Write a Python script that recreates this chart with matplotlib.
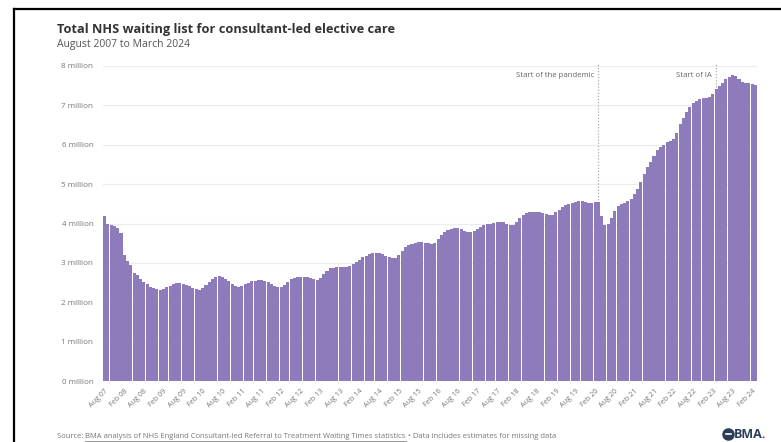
import matplotlib
matplotlib.use("Agg")
import matplotlib.pyplot as plt
from matplotlib.lines import Line2D
import numpy as np

plt.rcParams['font.family'] = ['Open Sans', 'DejaVu Sans']

# Monthly total waiting list (millions), Aug 2007 .. Mar 2024
v2007 = [4.18, 4.00, 3.97, 3.93, 3.88]
v2008 = [3.75, 3.20, 3.05, 2.95, 2.75, 2.68, 2.58, 2.52, 2.46, 2.40, 2.36, 2.33]
v2009 = [2.31, 2.33, 2.38, 2.42, 2.46, 2.49, 2.49, 2.47, 2.45, 2.41, 2.36, 2.33]
v2010 = [2.31, 2.36, 2.44, 2.52, 2.60, 2.65, 2.67, 2.64, 2.60, 2.54, 2.47, 2.41]
v2011 = [2.38, 2.42, 2.46, 2.50, 2.53, 2.55, 2.57, 2.57, 2.55, 2.52, 2.47, 2.42]
v2012 = [2.39, 2.38, 2.44, 2.52, 2.58, 2.62, 2.64, 2.65, 2.64, 2.63, 2.62, 2.60]
v2013 = [2.57, 2.62, 2.72, 2.80, 2.86, 2.88, 2.89, 2.90, 2.90, 2.89, 2.91, 2.96]
v2014 = [3.02, 3.08, 3.14, 3.18, 3.22, 3.25, 3.25, 3.24, 3.22, 3.18, 3.14, 3.12]
v2015 = [3.12, 3.20, 3.30, 3.40, 3.45, 3.48, 3.50, 3.52, 3.52, 3.51, 3.50, 3.48]
v2016 = [3.50, 3.60, 3.70, 3.78, 3.83, 3.86, 3.88, 3.89, 3.86, 3.82, 3.79, 3.78]
v2017 = [3.80, 3.86, 3.92, 3.96, 3.98, 4.00, 4.02, 4.04, 4.05, 4.03, 4.00, 3.97]
v2018 = [3.96, 4.05, 4.15, 4.22, 4.27, 4.29, 4.30, 4.30, 4.29, 4.27, 4.24, 4.22]
v2019 = [4.22, 4.28, 4.35, 4.42, 4.46, 4.49, 4.52, 4.55, 4.56, 4.56, 4.55, 4.53]
v2020 = [4.53, 4.55, 4.54, 4.20, 3.96, 4.00, 4.15, 4.32, 4.45, 4.50, 4.52, 4.56]
v2021 = [4.62, 4.75, 4.88, 5.05, 5.25, 5.43, 5.56, 5.72, 5.86, 5.94, 6.00, 6.06]
v2022 = [6.10, 6.14, 6.30, 6.52, 6.68, 6.82, 6.95, 7.06, 7.12, 7.15, 7.18, 7.20]
v2023 = [7.22, 7.30, 7.42, 7.50, 7.58, 7.66, 7.72, 7.76, 7.74, 7.66, 7.60, 7.58]
v2024 = [7.58, 7.55, 7.53]

values = (v2007 + v2008 + v2009 + v2010 + v2011 + v2012 + v2013 + v2014 + v2015
          + v2016 + v2017 + v2018 + v2019 + v2020 + v2021 + v2022 + v2023 + v2024)

month_names = ['Jan', 'Feb', 'Mar', 'Apr', 'May', 'Jun', 'Jul', 'Aug', 'Sep', 'Oct', 'Nov', 'Dec']
months = []
y, m = 2007, 8
for _ in range(len(values)):
    months.append(f"{month_names[m-1]} {y % 100:02d}")
    m += 1
    if m > 12:
        m = 1
        y += 1

tick_labels = [lab for lab in months if lab.startswith('Aug') or lab.startswith('Feb')]
ytick_vals = [0, 1, 2, 3, 4, 5, 6, 7, 8]
ytick_labels = [f"{v} million" for v in ytick_vals]

events = {"Start of the pandemic": "Mar 20", "Start of IA": "Mar 23"}

fig = plt.figure(figsize=(7.81, 4.42), dpi=100)
fig.patch.set_facecolor('white')

# frame lines of the screenshot
fig.add_artist(Line2D([14/781, 14/781], [0, 1 - 9/442], transform=fig.transFigure, color='black', lw=1.6))
fig.add_artist(Line2D([14/781, 1], [1 - 9/442, 1 - 9/442], transform=fig.transFigure, color='black', lw=1.6))

ax = fig.add_axes([103/781, 1 - 381/442, (757 - 103)/781, (381 - 66)/442])
x = np.arange(len(values))
ax.bar(x, values, width=0.93, color='#8e7bbc', edgecolor='none', zorder=3)
ax.set_xlim(-0.5, len(values) - 0.5)
ax.set_ylim(0, 8)
ax.set_yticks(ytick_vals)
ax.set_yticklabels(ytick_labels, fontsize=5.8, color='#777777')
ax.grid(axis='y', color='#ececec', lw=0.8, zorder=0)
ax.tick_params(axis='y', length=0, pad=7)
tick_pos = [months.index(t) for t in tick_labels]
ax.set_xticks(tick_pos)
ax.set_xticklabels(tick_labels, rotation=45, ha='right', rotation_mode='anchor',
                   fontsize=5.2, color='#777777')
ax.tick_params(axis='x', length=0, pad=5)
for s in ax.spines.values():
    s.set_visible(False)

for label, mon in events.items():
    xi = months.index(mon)
    ax.axvline(xi, ymin=0, ymax=1.01, color='#aaaaaa', lw=0.9, ls=(0, (1, 1.5)), zorder=2, clip_on=False)
    ax.text(xi - 1.2, 7.75, label, ha='right', va='center', fontsize=5.6, color='#666666', zorder=4)

fig.text(57/781, 1 - 29/442, "Total NHS waiting list for consultant-led elective care",
         fontsize=9.2, fontweight='bold', color='#333333', va='center', ha='left')
fig.text(57/781, 1 - 45/442, "August 2007 to March 2024", fontsize=7.5, color='#555555',
         va='center', ha='left')

# source line with underlined link part
renderer = fig.canvas.get_renderer()
src_parts = [("Source: ", False),
             ("BMA analysis of NHS England Consultant-led Referral to Treatment Waiting Times statistics", True),
             (" \u2022 Data includes estimates for missing data", False)]
xcur = 57
ysrc = 1 - 436/442
for txt, ul in src_parts:
    t = fig.text(xcur/781, ysrc, txt, fontsize=5.5, color='#777777', va='center', ha='left')
    bb = t.get_window_extent(renderer=renderer)
    if ul:
        fig.add_artist(Line2D([bb.x0/781, bb.x1/781], [ysrc - 4.5/442, ysrc - 4.5/442],
                              transform=fig.transFigure, color='#888888', lw=0.6))
    xcur = bb.x1

fig.text(766/781, 1 - 434/442, "BMA.", fontsize=9, fontweight='bold', color='#2c3e57',
         va='center', ha='right')
fig.add_artist(Line2D([728/781], [1 - 434/442], transform=fig.transFigure, marker='o',
                      markersize=8, color='#2c3e57', ls='none'))
fig.add_artist(Line2D([725.5/781, 730.5/781], [1 - 434/442, 1 - 434/442], transform=fig.transFigure,
                      color='white', lw=1.2))

fig.savefig('out.png', dpi=100)
